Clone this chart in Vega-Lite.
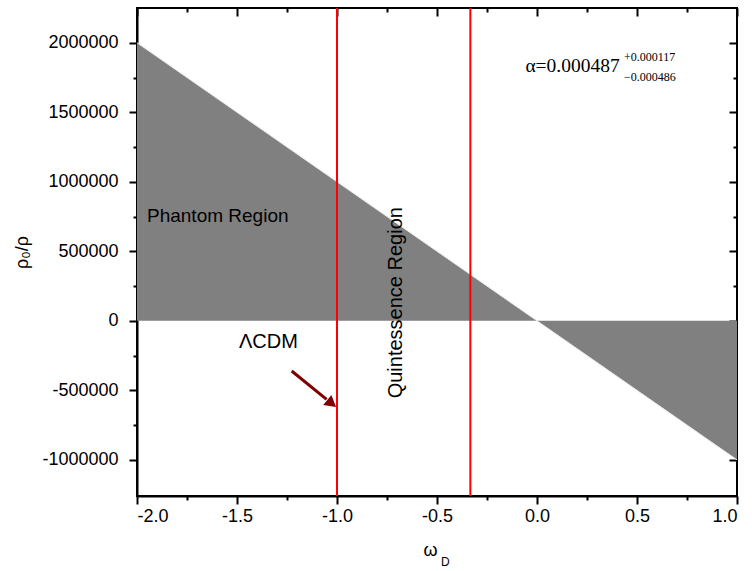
{
  "$schema": "https://vega.github.io/schema/vega-lite/v6.json",
  "width": 600,
  "height": 488,
  "autosize": {"type": "none"},
  "padding": {"left": 137, "top": 8, "right": 15, "bottom": 75},
  "background": "white",
  "config": {
    "view": {"stroke": "black", "strokeWidth": 2},
    "font": "Liberation Sans",
    "axis": {"grid": false, "domainColor": "black", "domainWidth": 2, "tickColor": "black", "tickWidth": 2, "labelColor": "black", "labelFont": "Liberation Sans", "labelFontSize": 18, "titleFont": "Liberation Sans", "titleFontSize": 18, "titleFontWeight": "normal", "titleColor": "black"}
  },
  "resolve": {"scale": {"x": "independent", "y": "independent"}, "axis": {"x": "independent", "y": "independent"}},
  "layer": [
    {
      "data": {"values": [{"w": -2, "r": 2000000}, {"w": 0, "r": 0}, {"w": 1, "r": -1000000}]},
      "mark": {"type": "area", "color": "#808080", "opacity": 1},
      "encoding": {
        "x": {"field": "w", "type": "quantitative", "scale": {"domain": [-2, 1], "nice": false, "zero": false},
          "axis": {"orient": "bottom", "title": "ω", "titleX": 293, "titlePadding": 16,
            "values": [-2, -1.75, -1.5, -1.25, -1, -0.75, -0.5, -0.25, 0, 0.25, 0.5, 0.75, 1],
            "ticks": true, "tickSize": 8,
            "tickDash": {"condition": {"test": "datum.value % 0.5 === 0", "value": [8, 0]}, "value": [4, 20]},
            "labelPadding": 3,
            "labelExpr": "datum.value % 0.5 === 0 ? replace(format(datum.value, '.1f'), '\u2212', '-') : ''"}},
        "y": {"field": "r", "type": "quantitative", "scale": {"domain": [-1260000, 2250000], "nice": false, "zero": false},
          "axis": {"orient": "left", "title": "ρ₀/ρ", "titlePadding": 10,
            "values": [-1000000, -750000, -500000, -250000, 0, 250000, 500000, 750000, 1000000, 1250000, 1500000, 1750000, 2000000],
            "ticks": true, "tickSize": 8,
            "tickDash": {"condition": {"test": "datum.value % 500000 === 0", "value": [8, 0]}, "value": [4, 20]},
            "labelPadding": 11,
            "labelExpr": "datum.value % 500000 === 0 ? '' + datum.value : ''"}},
        "y2": {"datum": 0}
      }
    },
    {
      "data": {"values": [{"w": -2, "r": 2000000}, {"w": 1, "r": -1000000}]},
      "mark": {"type": "line", "color": "#e8e8e8", "strokeWidth": 1},
      "encoding": {
        "x": {"field": "w", "type": "quantitative", "scale": {"domain": [-2, 1], "nice": false, "zero": false}, "axis": null},
        "y": {"field": "r", "type": "quantitative", "scale": {"domain": [-1260000, 2250000], "nice": false, "zero": false}, "axis": null}
      }
    },
    {
      "data": {"values": [{"w": -1}, {"w": -0.3333}]},
      "mark": {"type": "rule", "color": "#ff0000", "strokeWidth": 2},
      "encoding": {
        "x": {"field": "w", "type": "quantitative", "scale": {"domain": [-2, 1], "nice": false, "zero": false},
          "axis": {"orient": "top", "title": null, "labels": true, "labelExpr": "''", "offset": -8, "domain": false,
            "values": [-2, -1.75, -1.5, -1.25, -1, -0.75, -0.5, -0.25, 0, 0.25, 0.5, 0.75, 1],
            "ticks": true, "tickSize": 8,
            "tickDash": {"condition": {"test": "datum.value % 0.5 === 0", "value": [8, 0]}, "value": [0, 4, 4, 20]}}}
      }
    },
    {
      "data": {"values": [{"w": -1.2265, "r": -361000}, {"w": -1.052, "r": -565500}]},
      "mark": {"type": "line", "color": "#7f0000", "strokeWidth": 3},
      "encoding": {
        "x": {"field": "w", "type": "quantitative", "scale": {"domain": [-2, 1], "nice": false, "zero": false}, "axis": null},
        "y": {"field": "r", "type": "quantitative", "scale": {"domain": [-1260000, 2250000], "nice": false, "zero": false}, "axis": null}
      }
    },
    {
      "data": {"values": [{"w": -1.0265, "r": -595000}]},
      "mark": {"type": "point", "shape": "triangle-right", "filled": true, "color": "#7f0000", "opacity": 1, "size": 170, "angle": 39},
      "encoding": {
        "x": {"field": "w", "type": "quantitative", "scale": {"domain": [-2, 1], "nice": false, "zero": false}, "axis": null},
        "y": {"field": "r", "type": "quantitative", "scale": {"domain": [-1260000, 2250000], "nice": false, "zero": false}, "axis": null}
      }
    },
    {
      "data": {"values": [{"w": -1.95, "r": 709000, "label": "Phantom Region"}]},
      "mark": {"type": "text", "align": "left", "baseline": "alphabetic", "font": "Liberation Sans", "fontSize": 19, "color": "black"},
      "encoding": {
        "x": {"field": "w", "type": "quantitative", "scale": {"domain": [-2, 1], "nice": false, "zero": false}, "axis": null},
        "y": {"field": "r", "type": "quantitative", "scale": {"domain": [-1260000, 2250000], "nice": false, "zero": false},
          "axis": {"orient": "right", "title": null, "labels": true, "labelExpr": "''", "offset": -8, "domain": false,
            "values": [-1000000, -750000, -500000, -250000, 0, 250000, 500000, 750000, 1000000, 1250000, 1500000, 1750000, 2000000],
            "ticks": true, "tickSize": 8,
            "tickDash": {"condition": {"test": "datum.value % 500000 === 0", "value": [8, 0]}, "value": [0, 4, 4, 20]}}},
        "text": {"field": "label"}
      }
    },
    {
      "data": {"values": [{"w": -0.675, "r": 130000, "label": "Quintessence Region"}]},
      "mark": {"type": "text", "align": "center", "baseline": "alphabetic", "angle": 270, "font": "Liberation Sans", "fontSize": 20, "color": "black"},
      "encoding": {
        "x": {"field": "w", "type": "quantitative", "scale": {"domain": [-2, 1], "nice": false, "zero": false}, "axis": null},
        "y": {"field": "r", "type": "quantitative", "scale": {"domain": [-1260000, 2250000], "nice": false, "zero": false}, "axis": null},
        "text": {"field": "label"}
      }
    },
    {
      "data": {"values": [{"w": -1.49, "r": -198000, "label": "ΛCDM"}]},
      "mark": {"type": "text", "align": "left", "baseline": "alphabetic", "font": "Liberation Sans", "fontSize": 20, "color": "black"},
      "encoding": {
        "x": {"field": "w", "type": "quantitative", "scale": {"domain": [-2, 1], "nice": false, "zero": false}, "axis": null},
        "y": {"field": "r", "type": "quantitative", "scale": {"domain": [-1260000, 2250000], "nice": false, "zero": false}, "axis": null},
        "text": {"field": "label"}
      }
    },
    {
      "data": {"values": [{"w": -0.058, "r": 1788000, "label": "α=0.000487"}]},
      "mark": {"type": "text", "align": "left", "baseline": "alphabetic", "font": "Liberation Serif", "fontSize": 19.5, "color": "black"},
      "encoding": {
        "x": {"field": "w", "type": "quantitative", "scale": {"domain": [-2, 1], "nice": false, "zero": false}, "axis": null},
        "y": {"field": "r", "type": "quantitative", "scale": {"domain": [-1260000, 2250000], "nice": false, "zero": false}, "axis": null},
        "text": {"field": "label"}
      }
    },
    {
      "data": {"values": [{"w": 0.435, "r": 1867000, "label": "+0.000117"}, {"w": 0.435, "r": 1723000, "label": "−0.000486"}]},
      "mark": {"type": "text", "align": "left", "baseline": "alphabetic", "font": "Liberation Serif", "fontSize": 12, "color": "black"},
      "encoding": {
        "x": {"field": "w", "type": "quantitative", "scale": {"domain": [-2, 1], "nice": false, "zero": false}, "axis": null},
        "y": {"field": "r", "type": "quantitative", "scale": {"domain": [-1260000, 2250000], "nice": false, "zero": false}, "axis": null},
        "text": {"field": "label"}
      }
    },
    {
      "data": {"values": [{"w": -0.48, "r": -1766000, "label": "D"}]},
      "mark": {"type": "text", "align": "left", "baseline": "alphabetic", "font": "Liberation Sans", "fontSize": 12, "color": "black", "clip": false},
      "encoding": {
        "x": {"field": "w", "type": "quantitative", "scale": {"domain": [-2, 1], "nice": false, "zero": false}, "axis": null},
        "y": {"field": "r", "type": "quantitative", "scale": {"domain": [-1260000, 2250000], "nice": false, "zero": false}, "axis": null},
        "text": {"field": "label"}
      }
    }
  ]
}
